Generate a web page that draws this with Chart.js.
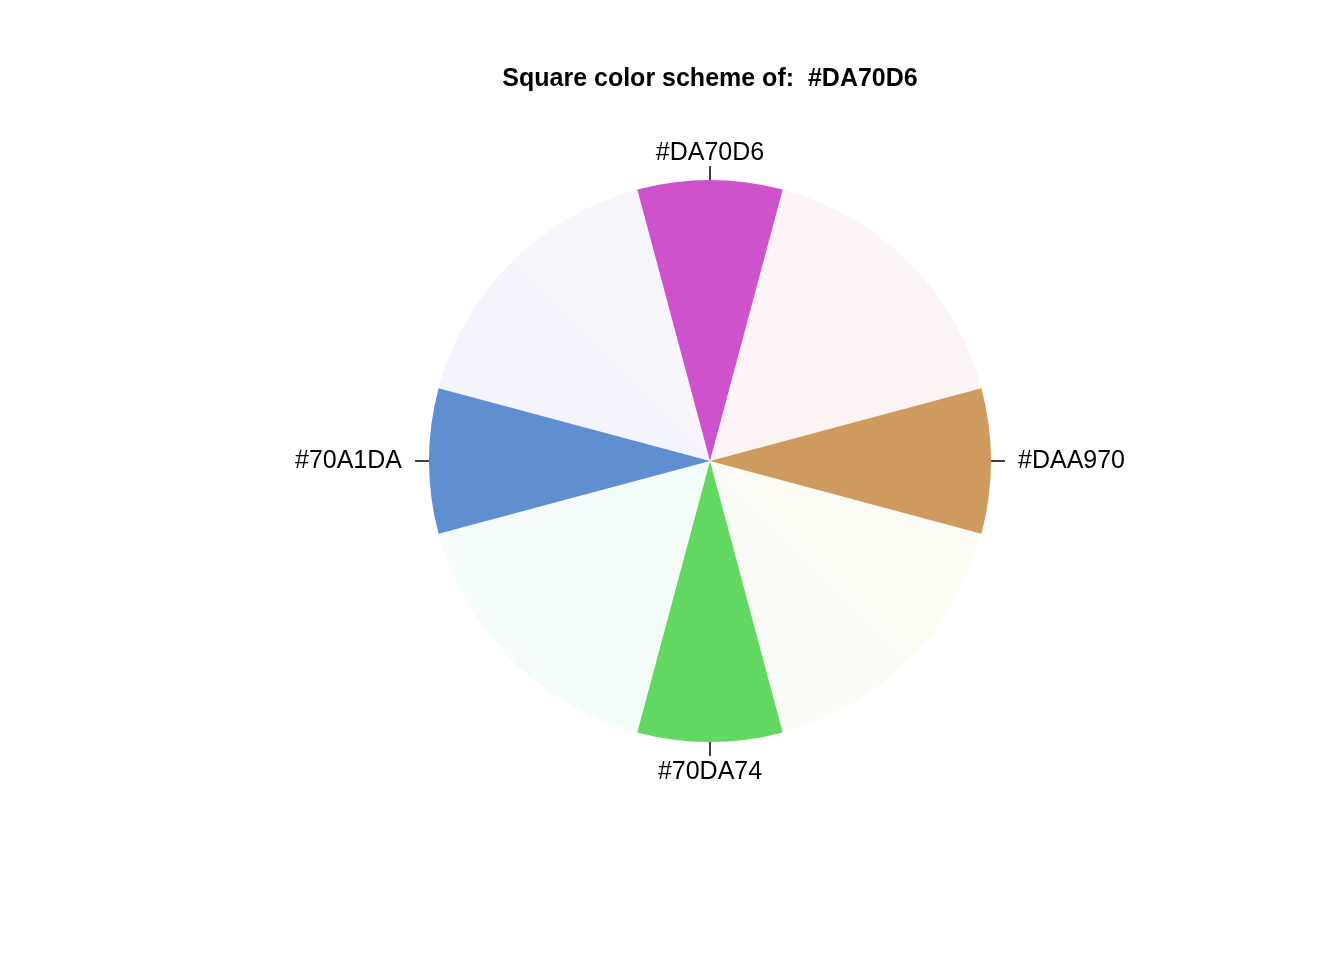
<!DOCTYPE html>
<html>
<head>
<meta charset="utf-8">
<script src="https://cdn.jsdelivr.net/npm/chart.js@4"></script>
<style>
  html, body { margin: 0; padding: 0; background: #fff; }
  #wrap { width: 1344px; height: 960px; }
</style>
</head>
<body>
<div id="wrap"><canvas id="pie"></canvas></div>
<script>
// 12 hue steps of 30 degrees, starting at the base colour, going clockwise
const sliceLabels = ['#DA70D6', '', '', '#DAA970', '', '', '#70DA74', '', '', '#70A1DA', '', ''];
const sliceValues = [1, 1, 1, 1, 1, 1, 1, 1, 1, 1, 1, 1];
const sliceHues = [302, 332, 2, 32, 62, 92, 122, 152, 182, 212, 242, 272];
// the four scheme colours as they appear on the picture
const shownColors = {
    '#DA70D6': '#CE52CC',
    '#DAA970': '#CF9A5E',
    '#70DA74': '#62D862',
    '#70A1DA': '#5F8ED1'
};

const colors = sliceHues.map((h, i) =>
    sliceLabels[i] ? shownColors[sliceLabels[i]] : 'hsla(' + h + ', 59%, 62%, 0.07)');

const labelPlugin = {
    id: 'sliceLabels',
    afterDatasetsDraw(chart) {
        const ctx = chart.ctx;
        const meta = chart.getDatasetMeta(0);
        ctx.save();
        ctx.font = '25px "Liberation Sans", Arial, sans-serif';
        ctx.fillStyle = '#000';
        ctx.strokeStyle = '#000';
        ctx.lineWidth = 1.5;
        meta.data.forEach((arc, i) => {
            const lab = chart.data.labels[i];
            if (!lab) return;
            const p = arc.getProps(['x', 'y', 'startAngle', 'endAngle', 'outerRadius'], true);
            const a = (p.startAngle + p.endAngle) / 2;
            const c = Math.cos(a), s = Math.sin(a);
            ctx.beginPath();
            ctx.moveTo(p.x + c * p.outerRadius, p.y + s * p.outerRadius);
            ctx.lineTo(p.x + c * (p.outerRadius + 14), p.y + s * (p.outerRadius + 14));
            ctx.stroke();
            let off = 27;
            if (Math.abs(c) <= 0.5) off = s < 0 ? 27 : 30;
            const r = p.outerRadius + off;
            ctx.textAlign = c > 0.5 ? 'left' : (c < -0.5 ? 'right' : 'center');
            ctx.textBaseline = 'middle';
            ctx.fillText(lab, p.x + c * r, p.y + s * r);
        });
        ctx.restore();
    }
};

new Chart(document.getElementById('pie'), {
    type: 'pie',
    data: {
        labels: sliceLabels,
        datasets: [{
            data: sliceValues,
            backgroundColor: colors,
            borderWidth: 0,
            hoverOffset: 0
        }]
    },
    options: {
        responsive: true,
        maintainAspectRatio: false,
        animation: false,
        rotation: -15,
        layout: {
            padding: { top: 0, left: 429, right: 353, bottom: 218 }
        },
        plugins: {
            legend: { display: false },
            tooltip: { enabled: false },
            title: {
                display: true,
                fullSize: false,
                text: 'Square color scheme of:  #DA70D6',
                color: '#000',
                font: { size: 25, weight: 'bold', family: '"Liberation Sans", Arial, sans-serif' },
                padding: { top: 64, bottom: 86 }
            }
        }
    },
    plugins: [labelPlugin]
});
</script>
</body>
</html>
